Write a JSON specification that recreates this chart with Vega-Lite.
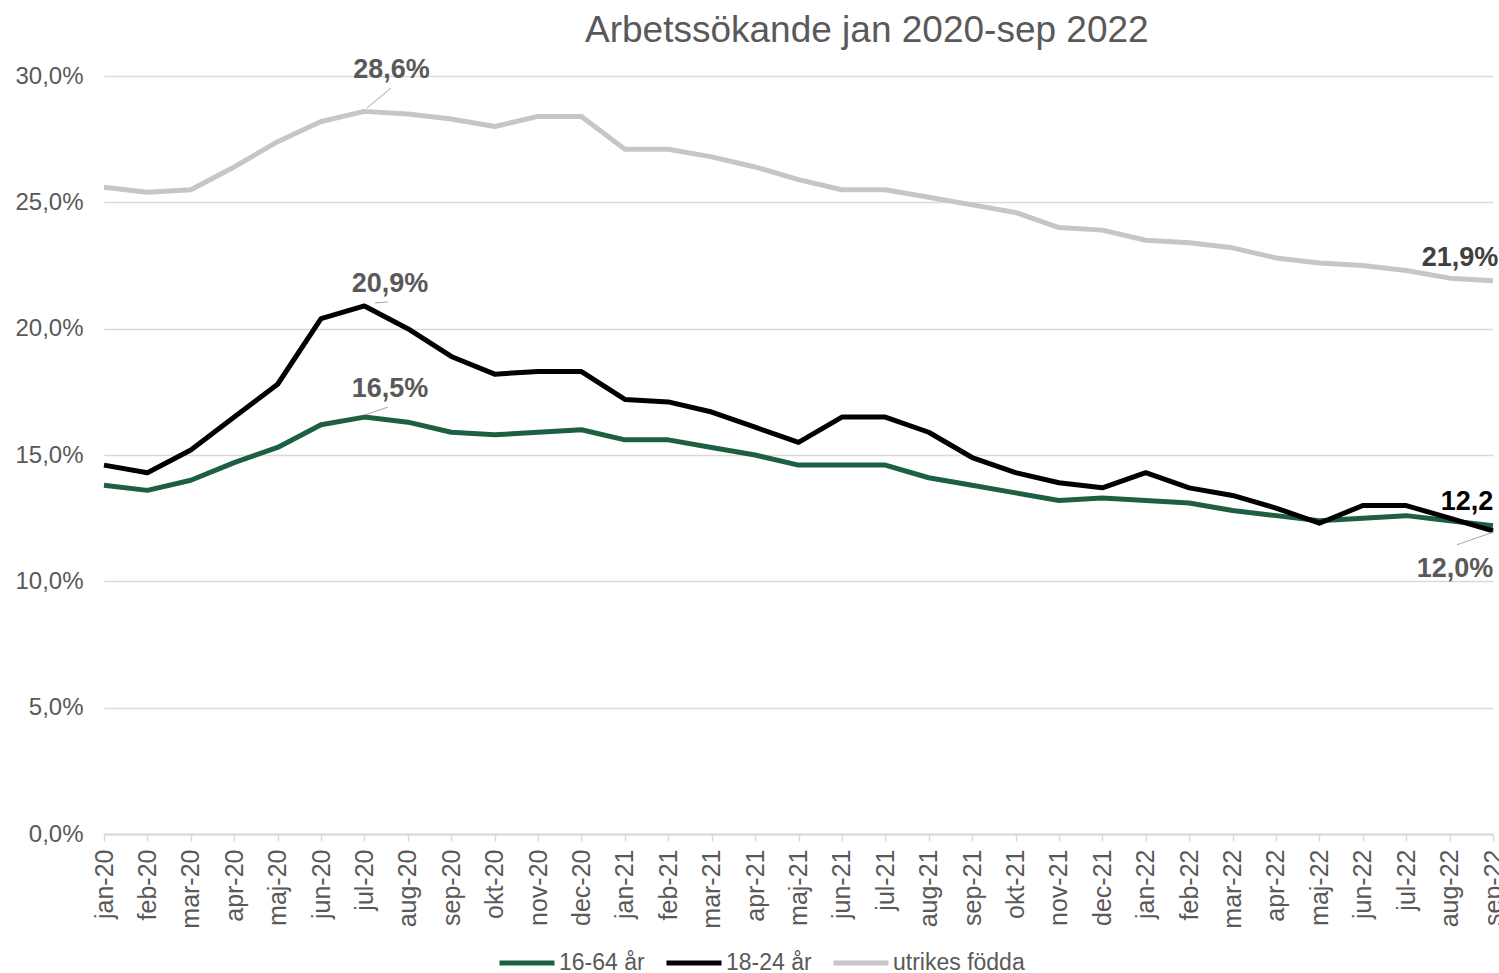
{
  "$schema": "https://vega.github.io/schema/vega-lite/v6.json",
  "autosize": {"type": "none"},
  "width": 1389,
  "height": 758,
  "padding": {"left": 104, "top": 76, "right": 6, "bottom": 139},
  "background": "white",
  "config": {
    "view": {"stroke": null},
    "font": "Liberation Sans",
    "locale": {"number": {"decimal": ",", "thousands": " ", "grouping": [3], "currency": ["", " kr"]}}
  },
  "title": {
    "text": "Arbetssökande jan 2020-sep 2022",
    "font": "Liberation Sans",
    "fontSize": 37,
    "fontWeight": "normal",
    "color": "#595959",
    "anchor": "start",
    "frame": "group",
    "dx": 481,
    "dy": 45,
    "baseline": "alphabetic",
    "offset": 22
  },
  "datasets": {
    "series": [
      {"m": "jan-20", "s": "16-64 år", "v": 0.138}, {"m": "feb-20", "s": "16-64 år", "v": 0.136}, {"m": "mar-20", "s": "16-64 år", "v": 0.140}, {"m": "apr-20", "s": "16-64 år", "v": 0.147}, {"m": "maj-20", "s": "16-64 år", "v": 0.153}, {"m": "jun-20", "s": "16-64 år", "v": 0.162}, {"m": "jul-20", "s": "16-64 år", "v": 0.165}, {"m": "aug-20", "s": "16-64 år", "v": 0.163}, {"m": "sep-20", "s": "16-64 år", "v": 0.159}, {"m": "okt-20", "s": "16-64 år", "v": 0.158}, {"m": "nov-20", "s": "16-64 år", "v": 0.159}, {"m": "dec-20", "s": "16-64 år", "v": 0.160},
      {"m": "jan-21", "s": "16-64 år", "v": 0.156}, {"m": "feb-21", "s": "16-64 år", "v": 0.156}, {"m": "mar-21", "s": "16-64 år", "v": 0.153}, {"m": "apr-21", "s": "16-64 år", "v": 0.150}, {"m": "maj-21", "s": "16-64 år", "v": 0.146}, {"m": "jun-21", "s": "16-64 år", "v": 0.146}, {"m": "jul-21", "s": "16-64 år", "v": 0.146}, {"m": "aug-21", "s": "16-64 år", "v": 0.141}, {"m": "sep-21", "s": "16-64 år", "v": 0.138}, {"m": "okt-21", "s": "16-64 år", "v": 0.135}, {"m": "nov-21", "s": "16-64 år", "v": 0.132}, {"m": "dec-21", "s": "16-64 år", "v": 0.133},
      {"m": "jan-22", "s": "16-64 år", "v": 0.132}, {"m": "feb-22", "s": "16-64 år", "v": 0.131}, {"m": "mar-22", "s": "16-64 år", "v": 0.128}, {"m": "apr-22", "s": "16-64 år", "v": 0.126}, {"m": "maj-22", "s": "16-64 år", "v": 0.124}, {"m": "jun-22", "s": "16-64 år", "v": 0.125}, {"m": "jul-22", "s": "16-64 år", "v": 0.126}, {"m": "aug-22", "s": "16-64 år", "v": 0.124}, {"m": "sep-22", "s": "16-64 år", "v": 0.122},
      {"m": "jan-20", "s": "18-24 år", "v": 0.146}, {"m": "feb-20", "s": "18-24 år", "v": 0.143}, {"m": "mar-20", "s": "18-24 år", "v": 0.152}, {"m": "apr-20", "s": "18-24 år", "v": 0.165}, {"m": "maj-20", "s": "18-24 år", "v": 0.178}, {"m": "jun-20", "s": "18-24 år", "v": 0.204}, {"m": "jul-20", "s": "18-24 år", "v": 0.209}, {"m": "aug-20", "s": "18-24 år", "v": 0.200}, {"m": "sep-20", "s": "18-24 år", "v": 0.189}, {"m": "okt-20", "s": "18-24 år", "v": 0.182}, {"m": "nov-20", "s": "18-24 år", "v": 0.183}, {"m": "dec-20", "s": "18-24 år", "v": 0.183},
      {"m": "jan-21", "s": "18-24 år", "v": 0.172}, {"m": "feb-21", "s": "18-24 år", "v": 0.171}, {"m": "mar-21", "s": "18-24 år", "v": 0.167}, {"m": "apr-21", "s": "18-24 år", "v": 0.161}, {"m": "maj-21", "s": "18-24 år", "v": 0.155}, {"m": "jun-21", "s": "18-24 år", "v": 0.165}, {"m": "jul-21", "s": "18-24 år", "v": 0.165}, {"m": "aug-21", "s": "18-24 år", "v": 0.159}, {"m": "sep-21", "s": "18-24 år", "v": 0.149}, {"m": "okt-21", "s": "18-24 år", "v": 0.143}, {"m": "nov-21", "s": "18-24 år", "v": 0.139}, {"m": "dec-21", "s": "18-24 år", "v": 0.137},
      {"m": "jan-22", "s": "18-24 år", "v": 0.143}, {"m": "feb-22", "s": "18-24 år", "v": 0.137}, {"m": "mar-22", "s": "18-24 år", "v": 0.134}, {"m": "apr-22", "s": "18-24 år", "v": 0.129}, {"m": "maj-22", "s": "18-24 år", "v": 0.123}, {"m": "jun-22", "s": "18-24 år", "v": 0.130}, {"m": "jul-22", "s": "18-24 år", "v": 0.130}, {"m": "aug-22", "s": "18-24 år", "v": 0.125}, {"m": "sep-22", "s": "18-24 år", "v": 0.120},
      {"m": "jan-20", "s": "utrikes födda", "v": 0.256}, {"m": "feb-20", "s": "utrikes födda", "v": 0.254}, {"m": "mar-20", "s": "utrikes födda", "v": 0.255}, {"m": "apr-20", "s": "utrikes födda", "v": 0.264}, {"m": "maj-20", "s": "utrikes födda", "v": 0.274}, {"m": "jun-20", "s": "utrikes födda", "v": 0.282}, {"m": "jul-20", "s": "utrikes födda", "v": 0.286}, {"m": "aug-20", "s": "utrikes födda", "v": 0.285}, {"m": "sep-20", "s": "utrikes födda", "v": 0.283}, {"m": "okt-20", "s": "utrikes födda", "v": 0.280}, {"m": "nov-20", "s": "utrikes födda", "v": 0.284}, {"m": "dec-20", "s": "utrikes födda", "v": 0.284},
      {"m": "jan-21", "s": "utrikes födda", "v": 0.271}, {"m": "feb-21", "s": "utrikes födda", "v": 0.271}, {"m": "mar-21", "s": "utrikes födda", "v": 0.268}, {"m": "apr-21", "s": "utrikes födda", "v": 0.264}, {"m": "maj-21", "s": "utrikes födda", "v": 0.259}, {"m": "jun-21", "s": "utrikes födda", "v": 0.255}, {"m": "jul-21", "s": "utrikes födda", "v": 0.255}, {"m": "aug-21", "s": "utrikes födda", "v": 0.252}, {"m": "sep-21", "s": "utrikes födda", "v": 0.249}, {"m": "okt-21", "s": "utrikes födda", "v": 0.246}, {"m": "nov-21", "s": "utrikes födda", "v": 0.240}, {"m": "dec-21", "s": "utrikes födda", "v": 0.239},
      {"m": "jan-22", "s": "utrikes födda", "v": 0.235}, {"m": "feb-22", "s": "utrikes födda", "v": 0.234}, {"m": "mar-22", "s": "utrikes födda", "v": 0.232}, {"m": "apr-22", "s": "utrikes födda", "v": 0.228}, {"m": "maj-22", "s": "utrikes födda", "v": 0.226}, {"m": "jun-22", "s": "utrikes födda", "v": 0.225}, {"m": "jul-22", "s": "utrikes födda", "v": 0.223}, {"m": "aug-22", "s": "utrikes födda", "v": 0.220}, {"m": "sep-22", "s": "utrikes födda", "v": 0.219}
    ],
    "ann": [
      {"k": "a", "m": "jul-20", "v": 0.286, "t": "28,6%"},
      {"k": "b", "m": "jul-20", "v": 0.209, "t": "20,9%"},
      {"k": "c", "m": "jul-20", "v": 0.165, "t": "16,5%"},
      {"k": "d", "m": "sep-22", "v": 0.219, "t": "21,9%"},
      {"k": "e", "m": "sep-22", "v": 0.122, "t": "12,2"},
      {"k": "f", "m": "sep-22", "v": 0.120, "t": "12,0%"}
    ]
  },
  "layer": [
    {
      "data": {"name": "series"},
      "mark": {"type": "line", "strokeWidth": 5, "strokeJoin": "round"},
      "encoding": {
        "x": {
          "field": "m", "type": "ordinal",
          "scale": {"type": "point", "padding": 0, "domain": ["jan-20","feb-20","mar-20","apr-20","maj-20","jun-20","jul-20","aug-20","sep-20","okt-20","nov-20","dec-20","jan-21","feb-21","mar-21","apr-21","maj-21","jun-21","jul-21","aug-21","sep-21","okt-21","nov-21","dec-21","jan-22","feb-22","mar-22","apr-22","maj-22","jun-22","jul-22","aug-22","sep-22"]},
          "axis": {
            "title": null, "labelAngle": -90, "labelFontSize": 25, "labelColor": "#595959",
            "labelFont": "Liberation Sans", "domainColor": "#d9d9d9", "domainWidth": 2,
            "tickColor": "#d9d9d9", "tickSize": 7, "tickWidth": 1.5, "labelPadding": 8, "grid": false
          }
        },
        "y": {
          "field": "v", "type": "quantitative",
          "scale": {"domain": [0, 0.3], "nice": false},
          "axis": {
            "title": null, "values": [0, 0.05, 0.1, 0.15, 0.2, 0.25, 0.3], "format": ".1%",
            "labelFontSize": 24, "labelColor": "#595959", "labelFont": "Liberation Sans",
            "domain": false, "ticks": false, "gridColor": "#d9d9d9", "gridWidth": 1.5, "labelPadding": 21
          }
        },
        "color": {
          "field": "s", "type": "nominal",
          "scale": {"domain": ["16-64 år", "18-24 år", "utrikes födda"], "range": ["#1d6041", "#000000", "#c6c6c6"]},
          "legend": {
            "title": null, "orient": "none", "legendX": 393, "legendY": 857, "direction": "horizontal",
            "symbolType": "stroke", "symbolSize": 3025, "symbolStrokeWidth": 5,
            "labelFontSize": 23, "labelColor": "#595959", "labelFont": "Liberation Sans",
            "labelOffset": 2, "columnPadding": 11
          }
        }
      }
    },
    {
      "data": {"name": "ann"},
      "transform": [{"filter": "datum.k === 'a'"}],
      "mark": {"type": "rule", "color": "#a6a6a6", "strokeWidth": 1, "xOffset": 2.5, "yOffset": -3.3, "x2Offset": 26.5, "y2Offset": -23.3},
      "encoding": {"x": {"field": "m", "type": "ordinal"}, "y": {"field": "v", "type": "quantitative"}, "x2": {"field": "m"}, "y2": {"field": "v"}}
    },
    {
      "data": {"name": "ann"},
      "transform": [{"filter": "datum.k === 'b'"}],
      "mark": {"type": "rule", "color": "#a6a6a6", "strokeWidth": 1, "xOffset": 10.5, "yOffset": -3, "x2Offset": 23.5, "y2Offset": -4},
      "encoding": {"x": {"field": "m", "type": "ordinal"}, "y": {"field": "v", "type": "quantitative"}, "x2": {"field": "m"}, "y2": {"field": "v"}}
    },
    {
      "data": {"name": "ann"},
      "transform": [{"filter": "datum.k === 'c'"}],
      "mark": {"type": "rule", "color": "#a6a6a6", "strokeWidth": 1, "xOffset": 0, "yOffset": -2, "x2Offset": 23.5, "y2Offset": -10},
      "encoding": {"x": {"field": "m", "type": "ordinal"}, "y": {"field": "v", "type": "quantitative"}, "x2": {"field": "m"}, "y2": {"field": "v"}}
    },
    {
      "data": {"name": "ann"},
      "transform": [{"filter": "datum.k === 'f'"}],
      "mark": {"type": "rule", "color": "#a6a6a6", "strokeWidth": 1, "xOffset": -36, "yOffset": 14, "x2Offset": 1, "y2Offset": 1},
      "encoding": {"x": {"field": "m", "type": "ordinal"}, "y": {"field": "v", "type": "quantitative"}, "x2": {"field": "m"}, "y2": {"field": "v"}}
    },
    {
      "data": {"name": "ann"},
      "transform": [{"filter": "datum.k === 'a'"}],
      "mark": {"type": "text", "dx": 27, "dy": -33, "align": "center", "baseline": "alphabetic", "fontSize": 27, "fontWeight": "bold", "font": "Liberation Sans", "color": "#595959"},
      "encoding": {"x": {"field": "m", "type": "ordinal"}, "y": {"field": "v", "type": "quantitative"}, "text": {"field": "t"}}
    },
    {
      "data": {"name": "ann"},
      "transform": [{"filter": "datum.k === 'b'"}],
      "mark": {"type": "text", "dx": 25.5, "dy": -14, "align": "center", "baseline": "alphabetic", "fontSize": 27, "fontWeight": "bold", "font": "Liberation Sans", "color": "#595959"},
      "encoding": {"x": {"field": "m", "type": "ordinal"}, "y": {"field": "v", "type": "quantitative"}, "text": {"field": "t"}}
    },
    {
      "data": {"name": "ann"},
      "transform": [{"filter": "datum.k === 'c'"}],
      "mark": {"type": "text", "dx": 25.5, "dy": -20, "align": "center", "baseline": "alphabetic", "fontSize": 27, "fontWeight": "bold", "font": "Liberation Sans", "color": "#595959"},
      "encoding": {"x": {"field": "m", "type": "ordinal"}, "y": {"field": "v", "type": "quantitative"}, "text": {"field": "t"}}
    },
    {
      "data": {"name": "ann"},
      "transform": [{"filter": "datum.k === 'd'"}],
      "mark": {"type": "text", "dx": -33, "dy": -15, "align": "center", "baseline": "alphabetic", "fontSize": 27, "fontWeight": "bold", "font": "Liberation Sans", "color": "#404040"},
      "encoding": {"x": {"field": "m", "type": "ordinal"}, "y": {"field": "v", "type": "quantitative"}, "text": {"field": "t"}}
    },
    {
      "data": {"name": "ann"},
      "transform": [{"filter": "datum.k === 'e'"}],
      "mark": {"type": "text", "dx": -26, "dy": -16, "align": "center", "baseline": "alphabetic", "fontSize": 27, "fontWeight": "bold", "font": "Liberation Sans", "color": "#000000"},
      "encoding": {"x": {"field": "m", "type": "ordinal"}, "y": {"field": "v", "type": "quantitative"}, "text": {"field": "t"}}
    },
    {
      "data": {"name": "ann"},
      "transform": [{"filter": "datum.k === 'f'"}],
      "mark": {"type": "text", "dx": -38, "dy": 46, "align": "center", "baseline": "alphabetic", "fontSize": 27, "fontWeight": "bold", "font": "Liberation Sans", "color": "#595959"},
      "encoding": {"x": {"field": "m", "type": "ordinal"}, "y": {"field": "v", "type": "quantitative"}, "text": {"field": "t"}}
    }
  ]
}
